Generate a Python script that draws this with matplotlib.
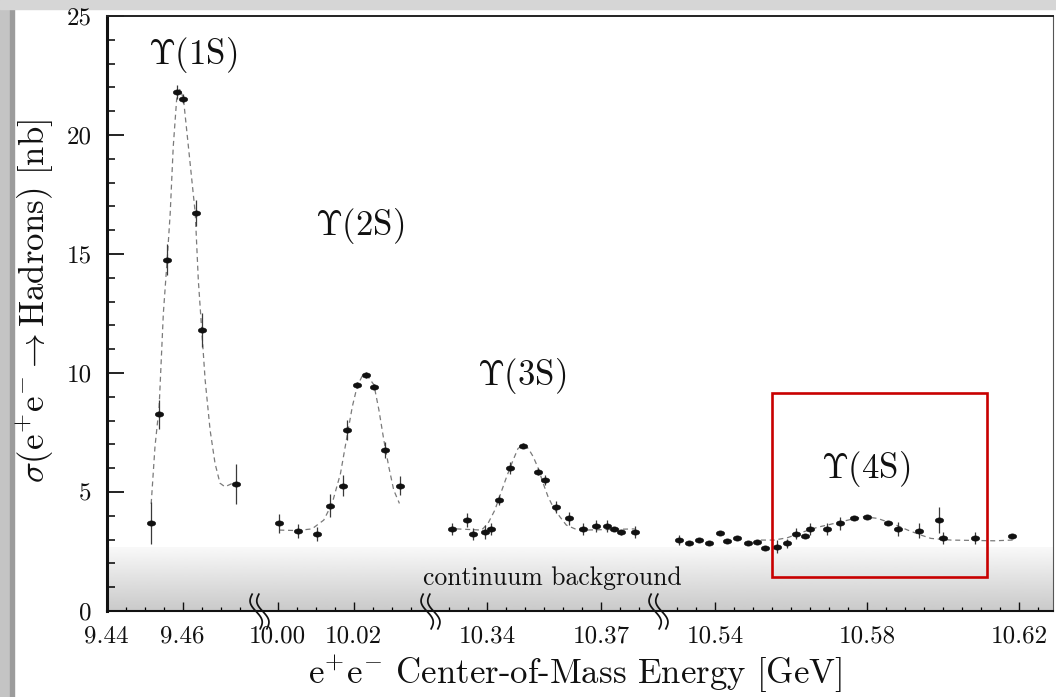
import numpy as np
import matplotlib
matplotlib.use('Agg')
import matplotlib.pyplot as plt
from matplotlib.path import Path
from matplotlib.patches import Rectangle
import matplotlib.transforms as mtransforms

plt.rcParams['font.family'] = ['cmr10', 'DejaVu Serif']
plt.rcParams['mathtext.fontset'] = 'cm'
plt.rcParams['axes.unicode_minus'] = False

# ---------------- data ----------------
# Upsilon(1S)
e_1s = [9.4517, 9.4538, 9.4559, 9.4585, 9.4602, 9.4634, 9.4650, 9.4740]
s_1s = [3.68, 8.26, 14.75, 21.82, 21.53, 16.71, 11.81, 5.34]
d_1s = [0.88, 0.6, 0.65, 0.3, 0.2, 0.55, 0.7, 0.85]
fit_e_1s = [9.4517, 9.4527, 9.4538, 9.4549, 9.4559, 9.4567, 9.4575, 9.4584, 9.4593,
            9.4602, 9.4615, 9.4633, 9.4641, 9.4650, 9.4659, 9.4672, 9.4685, 9.4698,
            9.4711, 9.4729]
fit_s_1s = [4.5, 6.9, 8.6, 12.5, 14.75, 16.7, 19.5, 21.5, 21.95,
             21.5, 19.5, 16.7, 13.9, 11.8, 9.7, 7.6, 6.2, 5.37,
             5.22, 5.35]

# Upsilon(2S)
e_2s = [10.0004, 10.0053, 10.0103, 10.0138, 10.0171, 10.0182, 10.0209, 10.0231,
        10.0253, 10.0283, 10.0322]
s_2s = [3.68, 3.37, 3.24, 4.43, 5.27, 7.61, 9.50, 9.93, 9.43, 6.76, 5.27]
d_2s = [0.4, 0.3, 0.3, 0.5, 0.45, 0.42, 0.12, 0.12, 0.12, 0.35, 0.4]
fit_e_2s = [10.0004, 10.0050, 10.0090, 10.0121, 10.0143, 10.0165, 10.0182, 10.0196,
            10.0209, 10.0222, 10.0235, 10.0253, 10.0266, 10.0279, 10.0292, 10.0305,
            10.0320]
fit_s_2s = [3.4, 3.38, 3.45, 3.82, 4.52, 5.78, 7.32, 8.58,
            9.45, 9.87, 9.9, 9.5, 8.45, 7.18, 6.06, 5.08,
            4.52]

# Upsilon(3S)
e_3s = [10.3309, 10.3348, 10.3364, 10.3395, 10.3412, 10.3432, 10.3461, 10.3494,
        10.3535, 10.3553, 10.3583, 10.3617, 10.3653, 10.3686, 10.3717, 10.3734,
        10.3754, 10.3789]
s_3s = [3.45, 3.82, 3.22, 3.31, 3.45, 4.66, 6.02, 6.95,
        5.85, 5.50, 4.36, 3.89, 3.45, 3.59, 3.59, 3.45,
        3.31, 3.31]
d_3s = [0.25, 0.28, 0.25, 0.3, 0.25, 0.2, 0.25, 0.1,
        0.15, 0.2, 0.25, 0.28, 0.25, 0.25, 0.25, 0.1,
        0.1, 0.25]
fit_e_3s = [10.3320, 10.3386, 10.3403, 10.3421, 10.3438, 10.3452, 10.3469, 10.3482,
            10.3496, 10.3509, 10.3522, 10.3535, 10.3548, 10.3561, 10.3574, 10.3592,
            10.3609, 10.3632, 10.3658, 10.3789]
fit_s_3s = [3.45, 3.40, 3.68, 4.24, 5.01, 5.64, 6.34, 6.83,
            6.97, 6.83, 6.48, 6.0, 5.37, 4.80, 4.38, 3.96,
            3.61, 3.45, 3.40, 3.45]

# Upsilon(4S)
e_4s = [10.5306, 10.5332, 10.5359, 10.5385, 10.5413, 10.5431, 10.5457, 10.5486,
        10.5511, 10.5532, 10.5563, 10.5589, 10.5613, 10.5638, 10.5650, 10.5695,
        10.5730, 10.5767, 10.5800, 10.5854, 10.5881, 10.5936, 10.5989, 10.5999,
        10.6085, 10.6182]
s_4s = [2.98, 2.84, 2.98, 2.84, 3.29, 2.94, 3.08, 2.84,
        2.91, 2.63, 2.70, 2.84, 3.24, 3.15, 3.45, 3.45,
        3.68, 3.89, 3.96, 3.68, 3.45, 3.38, 3.82, 3.08,
        3.08, 3.17]
d_4s = [0.2, 0.08, 0.08, 0.08, 0.08, 0.08, 0.08, 0.08,
        0.08, 0.08, 0.28, 0.2, 0.23, 0.08, 0.25, 0.25,
        0.28, 0.08, 0.08, 0.08, 0.3, 0.3, 0.55, 0.25,
        0.25, 0.08]
fit_e_4s = [10.5521, 10.5556, 10.5591, 10.5626, 10.5670, 10.5714, 10.5758, 10.5793,
            10.5828, 10.5872, 10.5907, 10.5942, 10.5968, 10.6021, 10.6135, 10.6183]
fit_s_4s = [2.98, 2.98, 3.08, 3.29, 3.52, 3.68, 3.85, 3.96,
            3.89, 3.64, 3.40, 3.19, 3.05, 2.98, 2.95, 2.98]

# axis segments (broken axis) and ticks
seg_lo = [9.44, 9.995, 10.325, 10.525]
seg_hi = [9.48, 10.04, 10.385, 10.629]
major_ticks = [9.44, 9.46, 10.00, 10.02, 10.34, 10.37, 10.54, 10.58, 10.62]
major_labels = ['9.44', '9.46', '10.00', '10.02', '10.34', '10.37', '10.54', '10.58', '10.62']
minor_step = 0.005
y_major = [0, 5, 10, 15, 20, 25]
labels_peaks = [r'$\Upsilon\mathrm{(1S)}$', r'$\Upsilon\mathrm{(2S)}$',
                r'$\Upsilon\mathrm{(3S)}$', r'$\Upsilon\mathrm{(4S)}$']
label_x = [9.4626, 10.0214, 10.3492, 10.5795]
label_y = [23.0, 15.8, 9.5, 5.57]
continuum_level = 2.65
box_x = [10.555, 10.6116]
box_y = [1.42, 9.17]

# --------------- broken-axis scale ---------------
xp = []
up = []
acc = 0.0
for lo, hi in zip(seg_lo, seg_hi):
    xp += [lo, hi]
    up += [acc, acc + (hi - lo)]
    acc += hi - lo
xp = np.array(xp)
up = np.array(up)


def fwd(x):
    return np.interp(np.asarray(x, dtype=float), xp, up)


def inv(u):
    return np.interp(np.asarray(u, dtype=float), up, xp)


fig = plt.figure(figsize=(10.56, 6.97), dpi=100)
ax = fig.add_axes([106.7 / 1056, (697 - 611) / 697, 946.6 / 1056, 595 / 697])
ax.set_xscale('function', functions=(fwd, inv))

# background gradient band
grad = np.linspace(0.975, 0.79, 120).reshape(-1, 1)
ax.imshow(grad, extent=[0, 1, 0, continuum_level / 25.0], transform=ax.transAxes,
          aspect='auto', cmap='gray', vmin=0, vmax=1, zorder=0, interpolation='bilinear')

# ellipse marker
th = np.linspace(0, 2 * np.pi, 41)
ell = Path(np.column_stack([np.cos(th), 0.62 * np.sin(th)]))

fit_col = '#7a7a7a'
for fe, fs in [(fit_e_1s, fit_s_1s), (fit_e_2s, fit_s_2s),
               (fit_e_3s, fit_s_3s), (fit_e_4s, fit_s_4s)]:
    ax.plot(fe, fs, color=fit_col, lw=0.9, ls=(0, (4, 3)), zorder=2)

for e, s, d in [(e_1s, s_1s, d_1s), (e_2s, s_2s, d_2s),
                (e_3s, s_3s, d_3s), (e_4s, s_4s, d_4s)]:
    ax.errorbar(e, s, yerr=d, fmt='none', ecolor='#3a3a3a', elinewidth=0.9, zorder=3)
    ax.plot(e, s, ls='none', marker=ell, ms=6.2, mfc='#111111', mec='#111111',
            mew=0.3, zorder=4)

# peak labels
for t, lx, ly in zip(labels_peaks, label_x, label_y):
    ax.text(lx, ly, t, ha='center', va='baseline', fontsize=25, color='#111111', zorder=5)

ax.text(10.3571, 1.09, 'continuum background', ha='center', va='baseline',
        fontsize=18.5, color='#111111', zorder=5)

# red box
ax.add_patch(Rectangle((box_x[0], box_y[0]), box_x[1] - box_x[0], box_y[1] - box_y[0],
                       fill=False, ec='#c80000', lw=1.9, zorder=6))

# limits
ax.set_xlim(seg_lo[0], seg_hi[-1])
ax.set_ylim(0, 25)

# ticks
minor = []
for lo, hi in zip(seg_lo, seg_hi):
    v = np.round(np.arange(np.ceil(lo / minor_step - 1e-6) * minor_step, hi + 1e-9, minor_step), 4)
    for t in v:
        if abs(t - lo) < 1e-6 and lo != seg_lo[0]:
            continue
        if abs(t - hi) < 1e-6 and hi != seg_hi[-1]:
            continue
        if min(abs(t - m) for m in major_ticks) > 1e-6:
            minor.append(t)
ax.set_xticks(major_ticks, labels=major_labels)
ax.set_xticks(minor, minor=True)
ax.set_yticks(y_major)
ax.set_yticks(np.arange(0, 26, 1), minor=True)

ax.tick_params(axis='x', which='major', direction='in', length=6.5, width=1.0,
               pad=10.5, labelsize=18, colors='#111111')
ax.tick_params(axis='x', which='minor', direction='in', length=3.2, width=0.9)
ax.tick_params(axis='y', which='major', direction='in', length=12.2, width=1.3,
               pad=10.8, labelsize=18, colors='#111111')
ax.tick_params(axis='y', which='minor', direction='in', length=5.8, width=1.1)

for side, lw, col in [('left', 2.2, '#111111'), ('bottom', 1.5, '#111111'),
                      ('top', 1.4, '#222222'), ('right', 0.8, '#555555')]:
    ax.spines[side].set_linewidth(lw)
    ax.spines[side].set_color(col)

# axis break marks
tt = np.linspace(-1, 1, 40)
verts = []
codes = []
for dx in (-2.6, 2.6):
    xs = dx + 3.2 * np.sin(np.pi * tt) + 2.8 * tt
    ys = -14.0 * tt
    for i, (a, b) in enumerate(zip(xs, ys)):
        verts.append((a, b))
        codes.append(Path.MOVETO if i == 0 else Path.LINETO)
brk = Path(np.array(verts), codes)
blend = mtransforms.blended_transform_factory(ax.transData, ax.transAxes)
for bx in seg_hi[:-1]:
    ax.plot([bx], [0], transform=blend, marker=brk, ms=26, mfc='none',
            mec='#111111', mew=1.25, ls='none', clip_on=False, zorder=7)

# axis labels
ax.set_xlabel(r'$\mathrm{e^{+}e^{-}}$ Center-of-Mass Energy [GeV]', fontsize=25,
              color='#111111')
ax.xaxis.set_label_coords(0.495, -0.072)
ax.set_ylabel(r'$\sigma(\mathrm{e^{+}e^{-}} \rightarrow \mathrm{Hadrons})$ [nb]',
              fontsize=25, color='#111111')
ax.yaxis.set_label_coords(-0.054, 0.52)

# screenshot-style frame shading
fig.add_artist(Rectangle((0, 0), 10 / 1056, 1, transform=fig.transFigure,
                         color='#c4c4c4', zorder=-5))
fig.add_artist(Rectangle((10 / 1056, 0), 4 / 1056, 1, transform=fig.transFigure,
                         color='#9c9c9c', zorder=-5))
fig.add_artist(Rectangle((0, 1 - 9 / 697), 1, 9 / 697, transform=fig.transFigure,
                         color='#d6d6d6', zorder=-5))

fig.savefig('out.png', dpi=100)
